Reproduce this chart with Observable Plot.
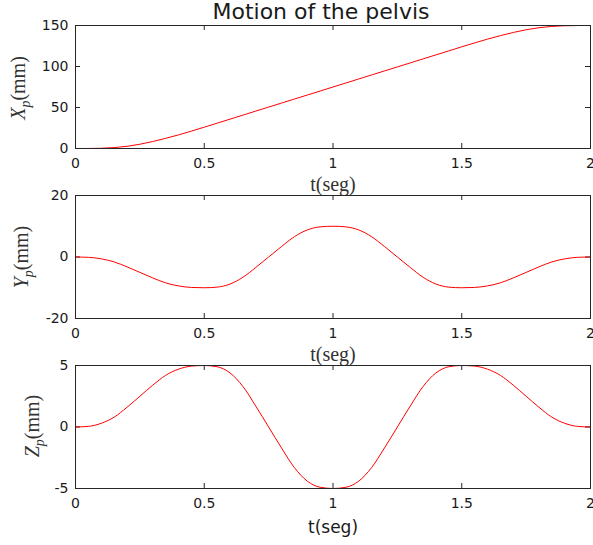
<!DOCTYPE html>
<html><head><meta charset="utf-8">
<script src="https://cdn.jsdelivr.net/npm/d3@7"></script>
<script src="https://cdn.jsdelivr.net/npm/@observablehq/plot@0.6"></script>
<style>
body{margin:0;background:#fff;}
#wrap{position:relative;width:593px;height:545px;overflow:hidden;background:#fff;font-family:"DejaVu Sans",sans-serif;color:#1a1a1a;}
.p{position:absolute;left:0;}
.lab{position:absolute;white-space:nowrap;line-height:1;}
.rot{transform:translate(-50%,-50%) rotate(-90deg);font-family:"Liberation Serif",serif;font-size:20px;color:#333;}
.hz{transform:translate(-50%,-50%);}
.serif{font-family:"Liberation Serif",serif;font-size:20px;color:#333;}
.sans{font-family:"DejaVu Sans",sans-serif;font-size:17px;}
#title{position:absolute;left:0;top:1px;width:642px;text-align:center;font-size:22px;line-height:22px;}
</style>
</head><body>
<div id="wrap">
  <div id="title">Motion of the pelvis</div>
  <div class="lab rot" style="left:20px;top:88px;"><i>X</i><sub style="font-size:14px;"><i>p</i></sub>(mm)</div>
  <div class="lab rot" style="left:23px;top:257px;"><i>Y</i><sub style="font-size:14px;"><i>p</i></sub>(mm)</div>
  <div class="lab rot" style="left:34px;top:426px;"><i>Z</i><sub style="font-size:14px;"><i>p</i></sub>(mm)</div>
  <div class="lab hz serif" style="left:333px;top:184px;">t(seg)</div>
  <div class="lab hz serif" style="left:333px;top:354px;">t(seg)</div>
  <div class="lab hz sans" style="left:333px;top:527px;">t(seg)</div>
</div>
<script>
// Time samples (s)
const tValues = [0,0.05,0.1,0.15,0.2,0.25,0.3,0.35,0.4,0.45,0.5,0.55,0.6,0.65,0.7,0.75,0.8,0.85,0.9,0.95,1.0,
  1.05,1.1,1.15,1.2,1.25,1.3,1.35,1.4,1.45,1.5,1.55,1.6,1.65,1.7,1.75,1.8,1.85,1.9,1.95,2.0];
// X_p (mm)
const xpValues = [0,0.05,0.3,1.1,2.7,5.2,8.5,12.4,16.6,21.2,26.0,30.9,35.8,40.7,45.6,50.5,55.4,60.3,65.2,70.1,75.0,
  79.9,84.8,89.7,94.6,99.5,104.4,109.3,114.2,119.1,124.0,128.8,133.4,137.6,141.5,144.8,147.3,148.9,149.7,149.95,150];
// Y_p (mm)
const ypValues = [0,-0.1,-0.6,-1.6,-3.2,-5.0,-6.8,-8.4,-9.4,-9.9,-10,-9.8,-8.8,-6.6,-3.4,0,3.4,6.6,8.8,9.8,10,
  9.8,8.8,6.6,3.4,0,-3.4,-6.6,-8.8,-9.8,-10,-9.9,-9.4,-8.4,-6.8,-5.0,-3.2,-1.6,-0.6,-0.1,0];
// Z_p (mm)
const zpValues = [0,0.05,0.3,0.8,1.6,2.5,3.4,4.2,4.7,4.95,5,4.9,4.4,3.3,1.7,0,-1.7,-3.3,-4.4,-4.9,-5,
  -4.9,-4.4,-3.3,-1.7,0,1.7,3.3,4.4,4.9,5,4.95,4.7,4.2,3.4,2.5,1.6,0.8,0.3,0.05,0];

const xTicks = [0,0.5,1,1.5,2];
const xpTicks = [0,50,100,150];
const ypTicks = [-20,0,20];
const zpTicks = [-5,0,5];

const rows = tValues.map((t,i) => ({t, xp: xpValues[i], yp: ypValues[i], zp: zpValues[i]}));

function panel(key, yDomain, yTicks, top, height, mb) {
  const mt = 25, ml = 75, mr = 3, width = 593;
  const H = height - mt - mb;
  const W = width - ml - mr;
  const ink = "#262626";
  const chart = Plot.plot({
    width, height, marginTop: mt, marginBottom: mb, marginLeft: ml, marginRight: mr,
    x: {domain: [0, 2]},
    y: {domain: yDomain},
    style: {background: "transparent", overflow: "visible", fontFamily: "DejaVu Sans, sans-serif", fontSize: "14px", color: "#1a1a1a"},
    marks: [
      Plot.axisX(xTicks, {tickSize: 0, tickPadding: 10, tickFormat: d => String(d), label: null, fontSize: 14}),
      Plot.axisY(yTicks, {tickSize: 0, tickPadding: 7, tickFormat: d => String(d), label: null, fontSize: 14}),
      Plot.tickX(xTicks, {x: d => d, insetTop: H - 5, stroke: ink}),
      Plot.tickX(xTicks, {x: d => d, insetBottom: H - 5, stroke: ink}),
      Plot.tickY(yTicks, {y: d => d, insetRight: W - 5, stroke: ink}),
      Plot.tickY(yTicks, {y: d => d, insetLeft: W - 5, stroke: ink}),
      Plot.line(rows, {x: "t", y: key, stroke: "#ff0000", strokeWidth: 1, curve: "monotone-x"}),
      Plot.frame({stroke: ink, strokeWidth: 1})
    ]
  });
  chart.classList.add("p");
  chart.style.top = top + "px";
  document.getElementById("wrap").appendChild(chart);
}

panel("xp", [0, 150], xpTicks, 0, 188, 40);
panel("yp", [-20, 20], ypTicks, 170, 188, 40);
panel("zp", [-5, 5], zpTicks, 340, 205, 57);
</script>
</body></html>
